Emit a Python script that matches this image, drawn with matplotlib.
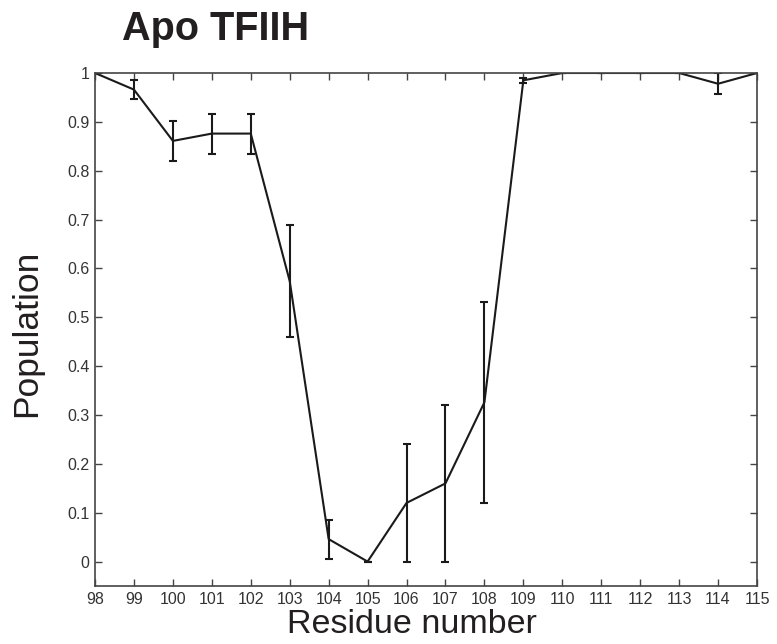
import matplotlib
matplotlib.use('Agg')
import matplotlib.pyplot as plt
import numpy as np

plt.rcParams['font.family'] = ['Liberation Sans', 'DejaVu Sans']

# data
residues = [98, 99, 100, 101, 102, 103, 104, 105, 106, 107, 108, 109, 110, 111, 112, 113, 114, 115]
population = [1.0, 0.966, 0.861, 0.876, 0.876, 0.574, 0.046, 0.0, 0.12, 0.16, 0.326, 0.985,
              1.0, 1.0, 1.0, 1.0, 0.978, 1.0]
err_low = [0.0, 0.02, 0.041, 0.041, 0.041, 0.115, 0.04, 0.0, 0.12, 0.16, 0.206, 0.005,
           0.0, 0.0, 0.0, 0.0, 0.021, 0.0]
err_high = [0.0, 0.02, 0.041, 0.041, 0.041, 0.115, 0.04, 0.0, 0.12, 0.16, 0.206, 0.005,
            0.0, 0.0, 0.0, 0.0, 0.021, 0.0]
yticks = [0, 0.1, 0.2, 0.3, 0.4, 0.5, 0.6, 0.7, 0.8, 0.9, 1]
ytick_labels = ['0', '0.1', '0.2', '0.3', '0.4', '0.5', '0.6', '0.7', '0.8', '0.9', '1']

W, H = 777, 644
fig = plt.figure(figsize=(W / 100, H / 100), dpi=100)
ax = fig.add_axes([95 / W, 1 - 586 / H, 662 / W, 513 / H])

ax.errorbar(residues, population, yerr=[err_low, err_high], color='#1a1a1a', lw=1.5,
            elinewidth=1.5, capsize=3, capthick=1.5)

ax.set_xlim(98, 115)
ax.set_ylim(-0.05, 1.0)
ax.set_xticks(residues)
ax.set_yticks(yticks)
ax.set_yticklabels(ytick_labels)
ax.tick_params(direction='in', length=5, width=1, color='#444444', labelcolor='#333333',
               labelsize=11.5, top=True, right=True, pad=4)
for s in ax.spines.values():
    s.set_color('#444444')
    s.set_linewidth(1.2)

# axis titles placed where they sit in the reference
fig.text(412 / W, 1 - 609 / H, 'Residue number', fontsize=24.5, color='#231f20',
         ha='center', va='top')
fig.text(27 / W, 1 - 333 / H, 'Population', fontsize=25.5, color='#231f20',
         ha='center', va='center', rotation=90)

fig.text(122 / W, 1 - 29 / H, 'Apo TFIIH', fontsize=28.5, fontweight='bold',
         color='#231f20', ha='left', va='center')
# panel letter, cut off at the top edge like in the reference
fig.text(-4 / W, 1 - 4 / H, 'A', fontsize=26, fontweight='bold', color='#231f20',
         ha='left', va='bottom')

fig.savefig('out.png', dpi=100)
